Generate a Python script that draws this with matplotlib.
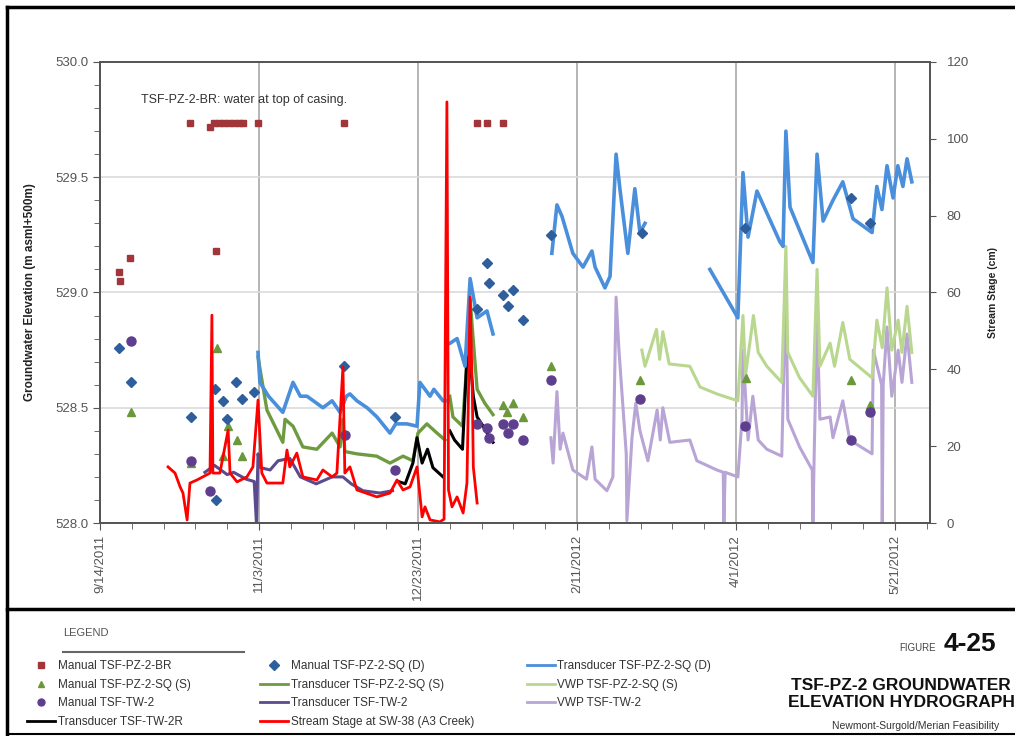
import numpy as np
import matplotlib.pyplot as plt
from matplotlib.lines import Line2D
from matplotlib.ticker import MultipleLocator

plt.rcParams['font.family'] = ['Liberation Sans', 'DejaVu Sans']

nan = np.nan

# x values are days after 9/14/2011
TICK_DAYS = [0, 50, 100, 150, 200, 250]
TICK_LABELS = ['9/14/2011', '11/3/2011', '12/23/2011', '2/11/2012', '4/1/2012', '5/21/2012']

# Manual readings (m asml + 500 m)
br_day = [6.0, 6.3, 9.4, 28.3, 34.6, 35.8, 36.5, 37.4, 39.0, 40.6, 42.1, 43.7, 45.0, 49.7, 76.7, 118.6, 121.7, 126.7]
br_elev = [529.09, 529.05, 529.15, 529.735, 529.72, 529.735, 529.18, 529.735, 529.735, 529.735,
           529.735, 529.735, 529.735, 529.735, 529.735, 529.735, 529.735, 529.735]

sqd_day = [6.0, 9.7, 28.6, 36.2, 38.7, 42.8, 44.7, 39.9, 48.4, 36.5, 76.7, 92.8, 118.6, 121.7,
           122.3, 126.7, 129.9, 128.3, 133.0, 141.8, 170.4, 202.8, 236.2, 242.1]
sqd_elev = [528.76, 528.61, 528.46, 528.58, 528.53, 528.61, 528.54, 528.45, 528.57, 528.10, 528.68,
            528.46, 528.93, 529.13, 529.04, 528.99, 529.01, 528.94, 528.88, 529.25, 529.26, 529.28,
            529.41, 529.30]

sqs_day = [9.7, 28.6, 36.7, 38.7, 40.3, 43.0, 44.6, 126.7, 128.0, 129.9, 133.0, 141.8, 169.8, 203.0, 236.2, 242.0]
sqs_elev = [528.48, 528.26, 528.76, 528.29, 528.42, 528.36, 528.29, 528.51, 528.48, 528.52, 528.46,
            528.68, 528.62, 528.63, 528.62, 528.51]

tw_day = [9.7, 28.6, 34.6, 77.0, 92.8, 118.6, 121.7, 122.3, 126.7, 129.9, 128.3, 133.0, 141.8, 169.8, 202.8, 236.2, 242.0]
tw_elev = [528.79, 528.27, 528.14, 528.38, 528.23, 528.43, 528.41, 528.37, 528.43, 528.43, 528.39,
           528.36, 528.62, 528.54, 528.42, 528.36, 528.48]

# Transducer TSF-PZ-2-SQ (D)
trd_day = [49.7, 50.3, 53, 57.5, 60.7, 63, 65.1, 70.1, 73.0, 75.5, 77.5, 78.6, 80.8, 84, 87.1, 91.2, 93,
           96.5, 99.7, 100.6, 103.8, 105, 107.9, 108.5, nan,
           110.1, 112.3, 114.8, 116.4, 118.6, 121.7, 123.6, nan,
           142.1, 143.7, 145.3, 148.7, 151.9, 154.7, 155.7, 158.8, 160.4, 162.3, 163.5, 166.0, 168.2,
           169.8, 171.4, nan,
           191.8, 200.6, 202.2, 203.8, 206.6, 213.8, 214.8, 215.7, 217.0, 224.2, 225.5, 227.4, 230.5,
           233.6, 236.8, 242.8, 244.3, 245.9, 247.5, 249.4, 250.9, 252.5, 253.8, 255.3]
trd_elev = [528.74, 528.61, 528.55, 528.48, 528.61, 528.55, 528.55, 528.50, 528.53, 528.48, 528.55,
            528.56, 528.53, 528.50, 528.46, 528.39, 528.43, 528.43, 528.42, 528.61, 528.55, 528.58,
            528.53, 528.53, nan,
            528.78, 528.80, 528.68, 529.06, 528.89, 528.92, 528.82, nan,
            529.17, 529.38, 529.33, 529.17, 529.11, 529.18, 529.11, 529.02, 529.07, 529.60, 529.45,
            529.17, 529.45, 529.26, 529.30, nan,
            529.10, 528.89, 529.52, 529.24, 529.44, 529.22, 529.20, 529.70, 529.37, 529.13, 529.60,
            529.31, 529.40, 529.48, 529.32, 529.26, 529.46, 529.36, 529.55, 529.41, 529.55, 529.46,
            529.58, 529.48]

# Transducer TSF-PZ-2-SQ (S)
trs_day = [49.7, 52.5, 57.5, 58.2, 60.7, 63.8, 68.2, 73.0, 75.5, 76.4, 77.0, 80.8, 87.0, 91.2, 95.3,
           98.4, 100.0, 102.8, 106.0, 108.5, nan,
           110.0, 111.0, 114.0, 115.7, 116.4, 117.4, 118.6, 121.0, 123.6]
trs_elev = [528.72, 528.49, 528.35, 528.45, 528.42, 528.33, 528.32, 528.39, 528.33, 528.45, 528.31,
            528.30, 528.29, 528.26, 528.29, 528.27, 528.39, 528.43, 528.39, 528.36, nan,
            528.55, 528.46, 528.42, 528.76, 528.97, 528.79, 528.58, 528.52, 528.47]

# Transducer TSF-TW-2
trt_day = [33, 36, 40, 42, 46, 48.5, 49.2, 49.7, 50.5, 53.5, 56, 59.7, 63, 68, 73, 76.4, 79, 82.7, 88, 92]
trt_elev = [528.22, 528.25, 528.21, 528.22, 528.19, 528.18, 528.0, 528.30, 528.24, 528.23, 528.27,
            528.28, 528.20, 528.17, 528.20, 528.20, 528.17, 528.14, 528.13, 528.14]

# Transducer TSF-TW-2R
tr2r_day = [93.8, 96, 98.4, 99.7, 101.3, 103, 104.7, 107.9, nan,
            110, 111.5, 114, 115.4, 116.4, 117.4, 118.6, 120.5, 122.6, 123.6]
tr2r_elev = [528.18, 528.17, 528.26, 528.37, 528.26, 528.32, 528.24, 528.20, nan,
             528.40, 528.36, 528.32, 528.72, 528.71, 528.55, 528.46, 528.42, 528.37, 528.35]

# VWP TSF-PZ-2-SQ (S)
vws_day = [170.4, 171.4, 175.0, 176.0, 177.0, 179.0, 185.5, 188.7, 194.0, 200.6, 202.2, 203.0, 205.5,
           207.0, 209.7, 214.4, 215.7, 216.3, 220.0, 224.2, 225.5, 226.4, 229.6, 231.0, 233.6, 235.8,
           242.8, 244.3, 246.0, 247.5, 249.0, 251.0, 252.2, 253.8, 255.3]
vws_elev = [528.75, 528.68, 528.84, 528.71, 528.83, 528.69, 528.68, 528.59, 528.56, 528.53, 528.90,
            528.64, 528.90, 528.74, 528.68, 528.61, 529.20, 528.74, 528.63, 528.55, 529.10, 528.68,
            528.78, 528.68, 528.87, 528.71, 528.63, 528.88, 528.76, 529.02, 528.75, 528.88, 528.74,
            528.94, 528.74]

# VWP TSF-TW-2
vwt_day = [141.8, 142.5, 143.7, 144.7, 145.6, 148.7, 153.0, 154.7, 155.7, 159.4, 161.3, 162.3, 163.2,
           165.5, 165.7, 167.3, 168.5, 169.8, 172.3, 175.2, 176.2, 177.0, 179.2, 185.5, 187.7, 194.0,
           196.0, 196.2, 196.6, 200.6, 201.9, 202.2, 203.8, 205.3, 207.0, 209.7, 214.4, 215.7, 216.3,
           220.0, 224.0, 224.2, 224.6, 225.5, 226.4, 229.6, 230.5, 233.6, 235.8, 242.8, 243.2, 245.8,
           246.0, 246.3, 247.5, 249.0, 251.0, 252.2, 253.8, 255.3]
vwt_elev = [528.37, 528.26, 528.57, 528.32, 528.39, 528.23, 528.19, 528.33, 528.19, 528.14, 528.20,
            528.98, 528.75, 528.30, 528.01, 528.37, 528.52, 528.40, 528.27, 528.49, 528.36, 528.50,
            528.35, 528.36, 528.27, 528.23, 528.22, 528.00, 528.22, 528.20, 528.45, 528.75, 528.36,
            528.55, 528.36, 528.32, 528.29, 529.04, 528.45, 528.33, 528.23, 528.00, 528.30, 528.89,
            528.45, 528.46, 528.37, 528.53, 528.36, 528.30, 528.75, 528.60, 528.00, 528.60, 528.85,
            528.55, 528.75, 528.61, 528.82, 528.61]

# Stream Stage at SW-38 (cm)
ss_day = [21.4, 23.6, 25.2, 26.1, 27.4, 28.3, 30.5, 34.6, 35.2, 35.5, 37.7, 40.3, 40.9, 43.1, 46.2,
          48.1, 49.7, 50.9, 52.5, 57.5, 58.8, 59.7, 61.9, 63.8, 68.2, 70.1, 73.0, 74.5, 76.4, 77.0,
          78.6, 80.8, 87.1, 91.2, 93.4, 95.3, 97.5, 99.7, 101.3, 102.2, 103.8, 106.9, 108.2, 109.1,
          109.6, 110.7, 112.3, 114.2, 115.4, 116.4, 117.1, 117.4, 118.6]
ss_cm = [14.6, 13.0, 9.4, 7.8, 0.8, 10.4, 11.2, 13.0, 54.1, 13.0, 13.0, 24.2, 13.0, 10.7, 12.0,
         14.6, 32.0, 13.0, 10.4, 10.4, 19.0, 14.6, 18.2, 12.0, 11.2, 13.8, 12.0, 13.0, 40.6, 13.0,
         14.6, 8.6, 6.8, 7.8, 11.2, 8.6, 9.4, 14.6, 1.6, 4.2, 0.8, 0.3, 1.0, 109.6,
         8.6, 4.2, 6.8, 2.6, 10.4, 58.8, 33.8, 14.6, 5.2]

fig = plt.figure(figsize=(10.15, 7.36), dpi=100)
ax = fig.add_axes([0.0985, 0.2894, 0.8177, 0.6264])

ax.plot(trt_day, trt_elev, color='#5B4A8E', lw=2.2, label='Transducer TSF-TW-2')
ax.plot(vwt_day, vwt_elev, color='#B8A5D6', lw=2.2, label='VWP TSF-TW-2')
ax.plot(vws_day, vws_elev, color='#B9D78F', lw=2.2, label='VWP TSF-PZ-2-SQ (S)')
ax.plot(trs_day, trs_elev, color='#6E9B3F', lw=2.4, label='Transducer TSF-PZ-2-SQ (S)')
ax.plot(tr2r_day, tr2r_elev, color='black', lw=2.2, label='Transducer TSF-TW-2R')
ax.plot(trd_day, trd_elev, color='#4A8FDB', lw=2.6, label='Transducer TSF-PZ-2-SQ (D)')

ax.plot(br_day, br_elev, 's', color='#A0363A', ms=4.5, label='Manual TSF-PZ-2-BR')
ax.plot(sqs_day, sqs_elev, '^', color='#6A983A', ms=6, label='Manual TSF-PZ-2-SQ (S)')
ax.plot(tw_day, tw_elev, 'o', color='#5E3F8F', ms=6.5, label='Manual TSF-TW-2')
ax.plot(sqd_day, sqd_elev, 'D', color='#2F5E9C', ms=5.5, label='Manual TSF-PZ-2-SQ (D)')

ax.set_xlim(0, 261)
ax.set_ylim(528.0, 530.0)
ax.set_xticks(TICK_DAYS)
ax.set_xticklabels(TICK_LABELS, rotation=90)
ax.xaxis.set_minor_locator(MultipleLocator(10))
ax.yaxis.set_major_locator(MultipleLocator(0.5))
ax.yaxis.set_minor_locator(MultipleLocator(0.1))
ax.yaxis.set_major_formatter(lambda v, p: '%.1f' % v)
ax.grid(axis='x', color='#A8A8A8', lw=1.2)
ax.grid(axis='y', color='#DADADA', lw=1.2)
ax.set_axisbelow(True)
ax.tick_params(which='both', direction='out', color='#555555', labelcolor='#555555', labelsize=9.5)
ax.tick_params(which='major', length=5)
ax.tick_params(which='minor', length=4)
for s in ax.spines.values():
    s.set_color('#555555')
    s.set_linewidth(1.3)
ax.set_ylabel('Groundwater Elevation (m asml+500m)', fontsize=8.5, fontweight='bold', color='#222222', labelpad=14)

ax2 = ax.twinx()
ax2.plot(ss_day, ss_cm, color='#FF0000', lw=2, label='Stream Stage at SW-38 (A3 Creek)')
ax2.set_ylim(0, 120)
ax2.yaxis.set_major_locator(MultipleLocator(20))
ax2.tick_params(direction='out', length=4, color='#555555', labelcolor='#555555', labelsize=9.5, pad=8)
for s in ax2.spines.values():
    s.set_color('#555555')
    s.set_linewidth(1.3)
ax2.set_ylabel('Stream Stage (cm)', fontsize=7.5, fontweight='bold', color='#222222', labelpad=14)

ax.text(13, 529.82, 'TSF-PZ-2-BR: water at top of casing.', fontsize=9, color='#333333')

# outer figure frame
for xs, ys, w in [([0.0069, 0.0069], [0.0, 0.9905], 2.5),
                  ([0.0069, 1.0], [0.9905, 0.9905], 2.5),
                  ([0.0069, 1.0], [0.1726, 0.1726], 2.5),
                  ([0.0069, 1.0], [0.0027, 0.0027], 1.5)]:
    fig.add_artist(Line2D(xs, ys, transform=fig.transFigure, color='black', lw=w))

# legend block
fig.text(0.062, 0.140, 'LEGEND', fontsize=8, color='#555555', va='center')
fig.add_artist(Line2D([0.062, 0.240], [0.114, 0.114], transform=fig.transFigure, color='#666666', lw=1.5))

handles = {h.get_label(): h for h in ax.get_lines() + ax2.get_lines()}
cols = [(['Manual TSF-PZ-2-BR', 'Manual TSF-PZ-2-SQ (S)', 'Manual TSF-TW-2', 'Transducer TSF-TW-2R'], 0.0266),
        (['Manual TSF-PZ-2-SQ (D)', 'Transducer TSF-PZ-2-SQ (S)', 'Transducer TSF-TW-2', 'Stream Stage at SW-38 (A3 Creek)'], 0.256),
        (['Transducer TSF-PZ-2-SQ (D)', 'VWP TSF-PZ-2-SQ (S)', 'VWP TSF-TW-2'], 0.519)]
for labels, x0 in cols:
    leg = fig.legend([handles[l] for l in labels], labels, loc='upper left', bbox_to_anchor=(x0, 0.103),
                     frameon=False, fontsize=8.5, handlelength=2.4, handletextpad=0.2, borderpad=0,
                     borderaxespad=0, labelspacing=0.55, labelcolor='#333333')
    for lh in leg.legend_handles:
        if lh.get_linestyle() != 'None':
            lh.set_linewidth(2)
        else:
            lh.set_markersize(5)

# title block
fig.text(0.886, 0.116, 'FIGURE', fontsize=7, color='#444444', va='baseline')
fig.text(0.930, 0.116, '4-25', fontsize=19, fontweight='bold', color='#111111', va='baseline')
fig.text(0.779, 0.069, 'TSF-PZ-2 GROUNDWATER', fontsize=12.5, fontweight='bold', color='#111111', va='center')
fig.text(0.776, 0.045, 'ELEVATION HYDROGRAPH', fontsize=12.5, fontweight='bold', color='#111111', va='center')
fig.text(0.820, 0.013, 'Newmont-Surgold/Merian Feasibility', fontsize=7.5, color='#333333', va='center')

fig.savefig('out.png', dpi=100)
